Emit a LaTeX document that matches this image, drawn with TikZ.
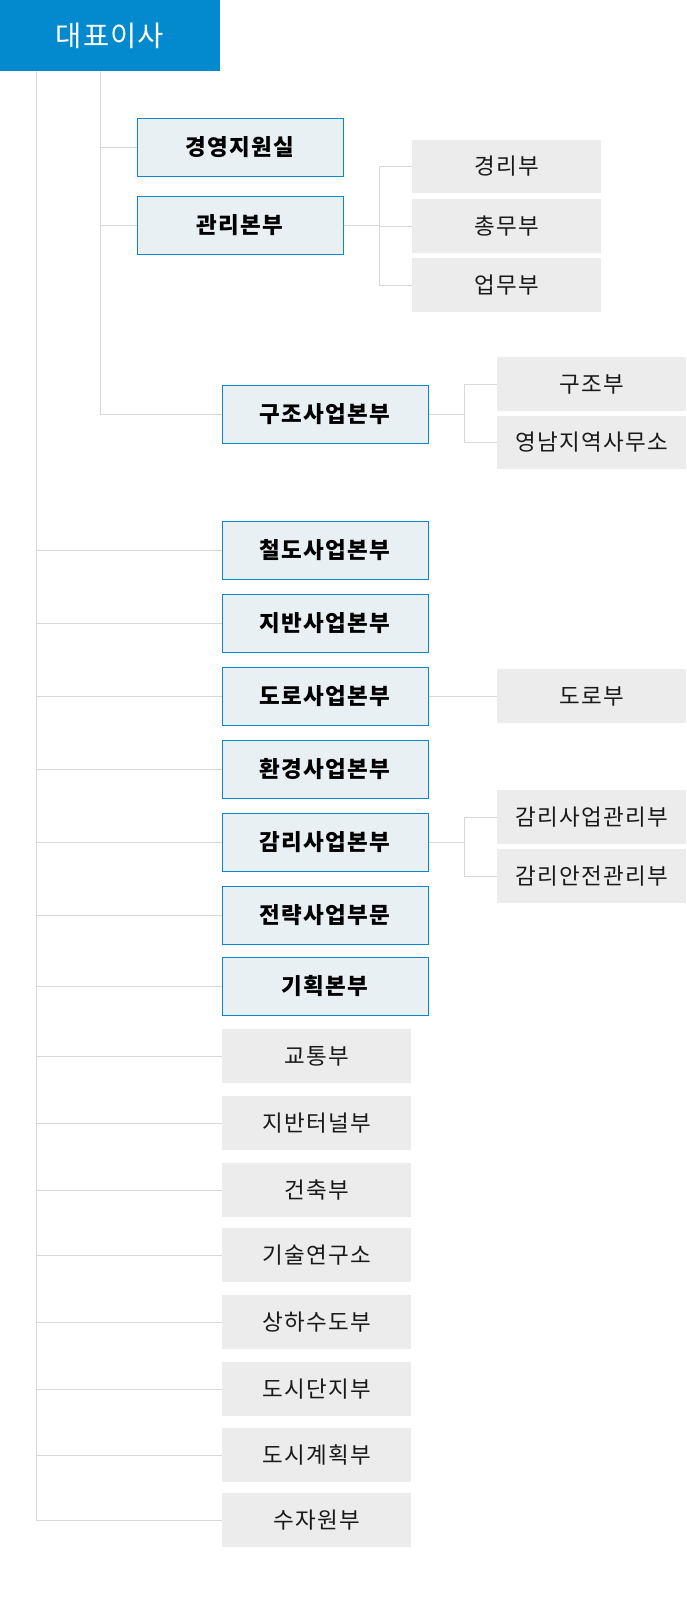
\documentclass[tikz,border=0pt]{standalone}
\usepackage{fontspec}
\setmainfont{Noto Sans CJK KR}
\newfontfamily\krwide{Noto Sans CJK KR}[LetterSpace=6]
\newfontfamily\krhead{Noto Sans CJK KR}[LetterSpace=4]
\definecolor{ceoblue}{RGB}{2,137,206}
\definecolor{frameblue}{RGB}{10,136,204}
\definecolor{mainfill}{RGB}{233,240,244}
\definecolor{subfill}{RGB}{236,236,236}
\definecolor{linegray}{RGB}{216,216,216}
\tikzset{
  link/.style={draw=linegray, line width=1pt},
  ceobox/.style={rectangle, fill=ceoblue, text=white, minimum width=220pt, minimum height=71pt, inner sep=0pt, font=\krhead\fontsize{28.5}{32}\selectfont},
  mainbox/.style={rectangle, draw=frameblue, fill=mainfill, line width=1pt, text=black, minimum width=206pt, minimum height=58pt, inner sep=0pt, font=\krwide\fontsize{22.5}{26}\selectfont\bfseries},
  subbox/.style={rectangle, fill=subfill, text=black!90, minimum width=189pt, minimum height=53.5pt, inner sep=0pt, font=\krwide\fontsize{22.5}{26}\selectfont},
}
\begin{document}
\begin{tikzpicture}[x=1pt,y=-1pt]
\useasboundingbox (0,0) rectangle (686,1622);
\node[ceobox] (ceo) at (110,35.5) {대표이사};

% inner branch
\node[mainbox] (support) at (240,147.5) {경영지원실};
\node[mainbox] (admin) at (240,225.5) {관리본부};
\node[mainbox] (struct) at (325,414.5) {구조사업본부};
\foreach \n in {support, admin, struct}
  \draw[link] ([xshift=101pt]ceo.south west) |- (\n.west);

\foreach \y/\name [count=\i] in {166.5/경리부, 226/총무부, 285/업무부} {
  \node[subbox] (admin sub \i) at (506.5,\y) {\name};
  \draw[link] (admin.east) -- ++(36,0) |- (admin sub \i.west);
}
\foreach \y/\name [count=\i] in {384/구조부, 442.5/영남지역사무소} {
  \node[subbox] (struct sub \i) at (591.5,\y) {\name};
  \draw[link] (struct.east) -- ++(36,0) |- (struct sub \i.west);
}

% outer branch
\foreach \y/\name [count=\i] in {550/철도사업본부, 623/지반사업본부, 696/도로사업본부, 769/환경사업본부, 842/감리사업본부, 915/전략사업부문, 986/기획본부} {
  \node[mainbox] (main \i) at (325,\y) {\name};
  \draw[link] ([xshift=36.5pt]ceo.south west) |- (main \i.west);
}
\foreach \y/\name [count=\i] in {1056/교통부, 1123/지반터널부, 1190/건축부, 1255/기술연구소, 1322/상하수도부, 1389/도시단지부, 1455/도시계획부, 1520/수자원부} {
  \node[subbox] (dept \i) at (316.5,\y) {\name};
  \draw[link] ([xshift=36.5pt]ceo.south west) |- (dept \i.west);
}

\node[subbox] (road) at (591.5,696) {도로부};
\draw[link] (main 3.east) -- (road.west);
\foreach \y/\name [count=\i] in {817/감리사업관리부, 876/감리안전관리부} {
  \node[subbox] (audit sub \i) at (591.5,\y) {\name};
  \draw[link] (main 5.east) -- ++(36,0) |- (audit sub \i.west);
}
\end{tikzpicture}
\end{document}
